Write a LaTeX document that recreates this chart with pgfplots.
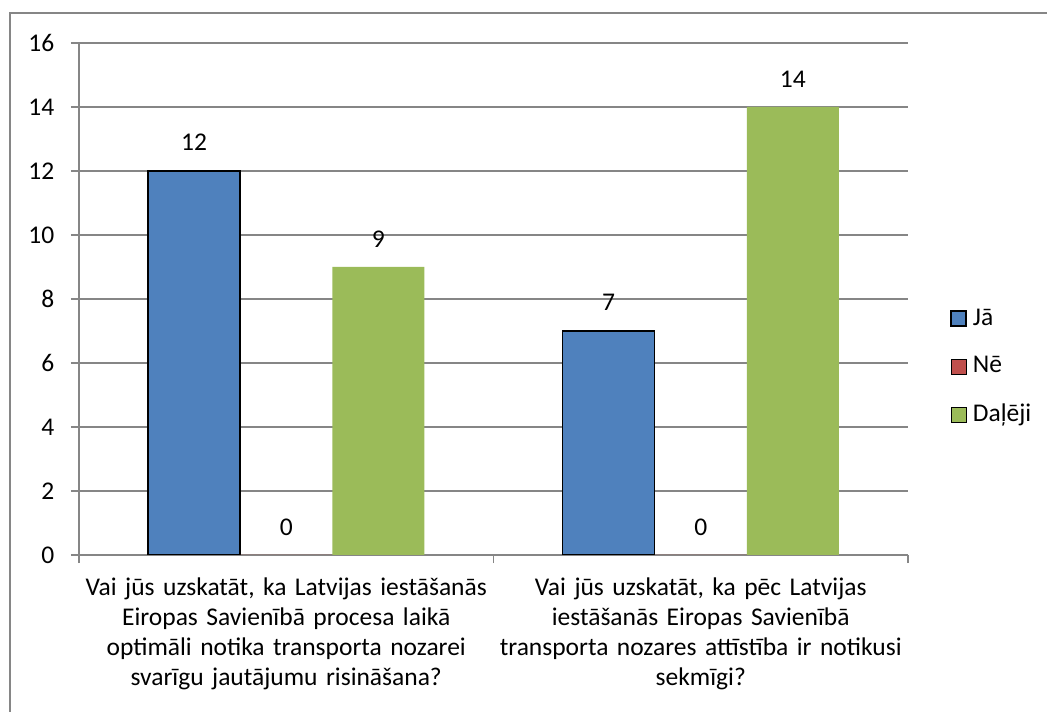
\documentclass[border=0pt]{standalone}
\usepackage{pgfplots}
\pgfplotsset{compat=1.18}
\usepackage{fontspec}
\setmainfont{Carlito}
\definecolor{xlblue}{HTML}{4F81BD}
\definecolor{xlred}{HTML}{C0504D}
\definecolor{xlgreen}{HTML}{9BBB59}
\definecolor{xlgrid}{HTML}{868686}

\begin{document}
\fontsize{25.5}{30}\selectfont
\begin{tikzpicture}[x=1pt,y=1pt]
\path[use as bounding box] (0,0) rectangle (1047,712);
\draw[xlgrid,line width=2pt] (10,0) -- (10,699) -- (1047,699);
\begin{axis}[
  at={(79pt,157pt)},anchor=south west,
  scale only axis,width=829pt,height=512pt,
  ybar=0pt,bar width=0.2222,
  xmin=0,xmax=2,ymin=0,ymax=16,
  ytick={0,2,...,16},
  xtick={0.5,1.5},
  xticklabels={{Vai jūs uzskatāt, ka Latvijas iestāšanās\\Eiropas Savienībā procesa laikā\\optimāli notika transporta nozarei\\svarīgu jautājumu risināšana?},
               {Vai jūs uzskatāt, ka pēc Latvijas\\iestāšanās Eiropas Savienībā\\transporta nozares attīstība ir notikusi\\sekmīgi?}},
  minor xtick={0,1,2},
  major x tick style={draw=none},
  tick align=outside,
  major tick length=8pt,minor tick length=8pt,
  xtick pos=bottom,ytick pos=left,
  axis x line*=bottom,axis y line*=left,
  axis line style={xlgrid,line width=1.5pt},
  every tick/.style={xlgrid,line width=1.5pt},
  ymajorgrids,grid style={xlgrid,line width=1.5pt},
  tick label style={font=\fontsize{25.5}{30}\selectfont},
  /pgf/number format/assume math mode=true,
  xticklabel style={align=center,text width=420pt,yshift=-6pt},
  yticklabel style={xshift=-8pt},
  nodes near coords,
  every node near coord/.append style={font=\fontsize{25.5}{30}\selectfont,yshift=11pt,black},
  legend style={at={(1.047,0.367)},anchor=west,draw=none,fill=none,
    font=\fontsize{25.5}{30}\selectfont,row sep=23.5pt},
  legend cell align=left,
  legend image code/.code={\draw[#1] (0pt,-7.5pt) rectangle (15pt,7.5pt);
    \path[draw=none,fill=none] (20pt,0pt) circle (0pt);},
]
\addplot[fill=xlblue,draw=black,line width=1.5pt] coordinates {(0.5,12) (1.5,7)};
\addlegendentry{Jā}
\addplot[fill=xlred,draw=none] coordinates {(0.5,0) (1.5,0)};
\addlegendentry{Nē}
\addplot[fill=xlgreen,draw=none] coordinates {(0.5,9) (1.5,14)};
\addlegendentry{Daļēji}
\end{axis}
\end{tikzpicture}
\end{document}
